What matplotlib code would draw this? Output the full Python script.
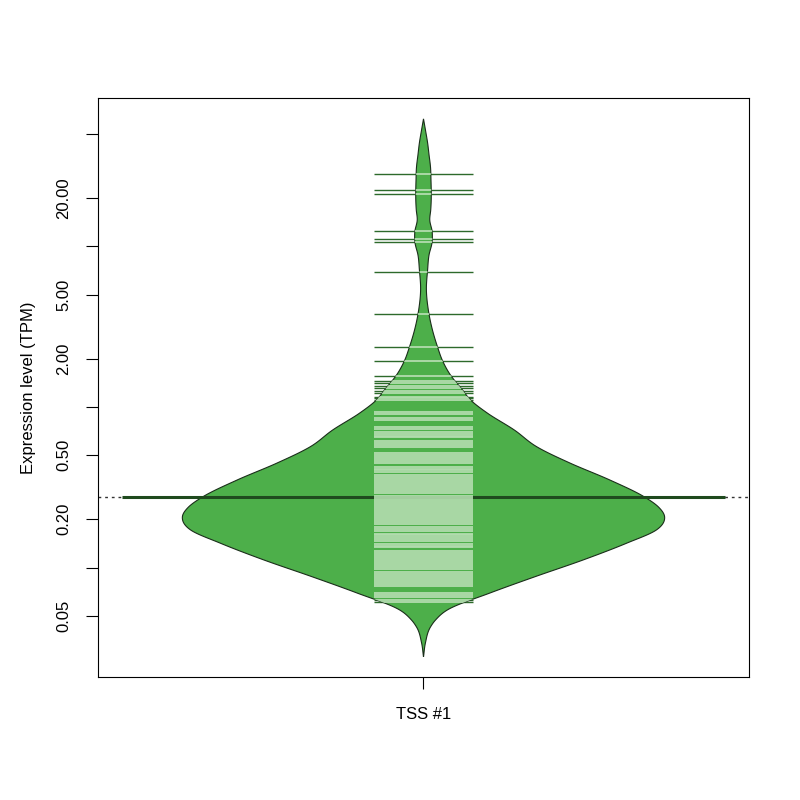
import matplotlib as mpl
mpl.use("Agg")
import matplotlib.pyplot as plt
from matplotlib.patches import Polygon
import numpy as np

plt.rcParams["font.family"] = ["Liberation Sans", "DejaVu Sans"]

# bean outline: TPM value and relative half-width
bean_tpm = [62.2, 53.1, 44.1, 37.1, 31.2, 25.9, 22.5, 19.5, 16.9, 14.6,
            12.3, 10.5, 8.85, 7.14, 5.36, 4.02, 3.02, 2.37, 1.94, 1.58,
            1.28, 1.11, 0.918, 0.720, 0.564, 0.448, 0.351, 0.275, 0.238, 0.207,
            0.172, 0.142, 0.112, 0.0874, 0.0696, 0.0545, 0.0472, 0.0427, 0.0340, 0.0278]
bean_width = [0, 0.008, 0.017, 0.023, 0.029, 0.031, 0.032, 0.032, 0.030, 0.026,
              0.036, 0.035, 0.023, 0.017, 0.012, 0.020, 0.037, 0.058, 0.079, 0.112,
              0.161, 0.194, 0.264, 0.376, 0.471, 0.607, 0.773, 0.917, 0.975, 1.0,
              0.967, 0.843, 0.665, 0.459, 0.277, 0.099, 0.050, 0.029, 0.008, 0]

# individual observations (TPM), one bean line each
obs_tpm = [28.1, 22.5, 21.2, 12.4, 11.1, 10.6, 6.93, 3.78, 2.38, 1.94,
           1.56, 1.46, 1.41, 1.36, 1.31, 1.26, 1.22, 1.16, 1.13, 1.10,
           0.925, 0.905, 0.849, 0.825, 0.751, 0.725, 0.699, 0.680, 0.660, 0.646,
           0.615, 0.597, 0.580, 0.564, 0.518, 0.503, 0.489, 0.475, 0.461, 0.448,
           0.426, 0.414, 0.403, 0.391, 0.378, 0.367, 0.357, 0.346, 0.337, 0.325,
           0.316, 0.307, 0.298, 0.290, 0.279, 0.272, 0.264, 0.256, 0.249, 0.242,
           0.235, 0.229, 0.222, 0.216, 0.210, 0.204, 0.198, 0.192, 0.187, 0.178,
           0.173, 0.168, 0.163, 0.159, 0.154, 0.150, 0.146, 0.141, 0.137, 0.134,
           0.127, 0.123, 0.120, 0.116, 0.113, 0.110, 0.107, 0.104, 0.101, 0.0981,
           0.0939, 0.0913, 0.0887, 0.0862, 0.0838, 0.0814, 0.0785, 0.0763,
           0.0690, 0.0671, 0.0652, 0.0633, 0.0615]

overall_mean = 0.276
group_label = "TSS #1"
ytick_vals = [0.05, 0.1, 0.2, 0.5, 1, 2, 5, 10, 20, 50]
ytick_labels = ["0.05", "", "0.20", "0.50", "", "2.00", "5.00", "", "20.00", ""]

bean_col = "#4DAF4A"
line_in_col = "#B2DCAE"
line_out_col = "#2D6A2B"
mean_col = "#1F4A1E"


def hermite(xk, yk, xnew):
    # cubic hermite through the read-off points, tangents by finite differences
    xk = np.asarray(xk); yk = np.asarray(yk)
    m = np.gradient(yk, xk)
    i = np.clip(np.searchsorted(xk, xnew) - 1, 0, len(xk) - 2)
    h = xk[i + 1] - xk[i]
    t = (xnew - xk[i]) / h
    h00 = 2 * t**3 - 3 * t**2 + 1
    h10 = t**3 - 2 * t**2 + t
    h01 = -2 * t**3 + 3 * t**2
    h11 = t**3 - t**2
    return h00 * yk[i] + h10 * h * m[i] + h01 * yk[i + 1] + h11 * h * m[i + 1]


fig = plt.figure(figsize=(8, 8), dpi=100)
ax = fig.add_axes([98 / 800, 123 / 800, 651 / 800, 579 / 800])
ax.set_yscale("log")
ax.set_xlim(0.46, 1.54)
ax.set_ylim(0.02084, 83.9)

ly = np.log10(bean_tpm)[::-1]
wv = np.array(bean_width)[::-1]
grid = np.linspace(ly[0], ly[-1], 800)
wg = np.clip(hermite(ly, wv, grid), 0, None)
wg[0] = 0
wg[-1] = 0
half = 0.4 * wg
yy = 10 ** grid
xs = np.concatenate([1 - half, (1 + half)[::-1]])
ys = np.concatenate([yy, yy[::-1]])

# dotted overall line across the plot
ax.axhline(overall_mean, color="#333333", lw=1, linestyle=(0, (2, 2.8)), zorder=1)

# bean lines outside the bean (dark)
ax.hlines(obs_tpm, 1 - 0.082, 1 + 0.082, color=line_out_col, lw=1.0, zorder=1.5)

poly = Polygon(np.column_stack([xs, ys]), closed=True, facecolor=bean_col,
               edgecolor="#1a2e1a", lw=0.8, zorder=2)
ax.add_patch(poly)

ax.hlines(overall_mean, 0.5, 1.5, color=mean_col, lw=2.2, zorder=3)

# bean lines inside the bean (light)
inner = ax.hlines(obs_tpm, 1 - 0.082, 1 + 0.082, color=line_in_col, lw=1.3, zorder=4)
inner.set_clip_path(poly)

ax.set_yticks(ytick_vals)
ax.set_yticklabels(ytick_labels)
ax.yaxis.set_minor_locator(mpl.ticker.NullLocator())
ax.set_xticks([1])
ax.set_xticklabels([group_label])

for s in ax.spines.values():
    s.set_linewidth(0.8)
ax.tick_params(axis="y", direction="out", length=8.4, width=0.8, labelsize=12,
               pad=11, labelrotation=90)
for lab in ax.get_yticklabels():
    lab.set_va("center")
ax.tick_params(axis="x", direction="out", length=8.4, width=0.8, labelsize=12, pad=13)

fig.text(28 / 800, (800 - 387.5) / 800, "Expression level (TPM)", rotation=90,
         ha="center", va="center", fontsize=12)

fig.savefig("out.png", dpi=100)
